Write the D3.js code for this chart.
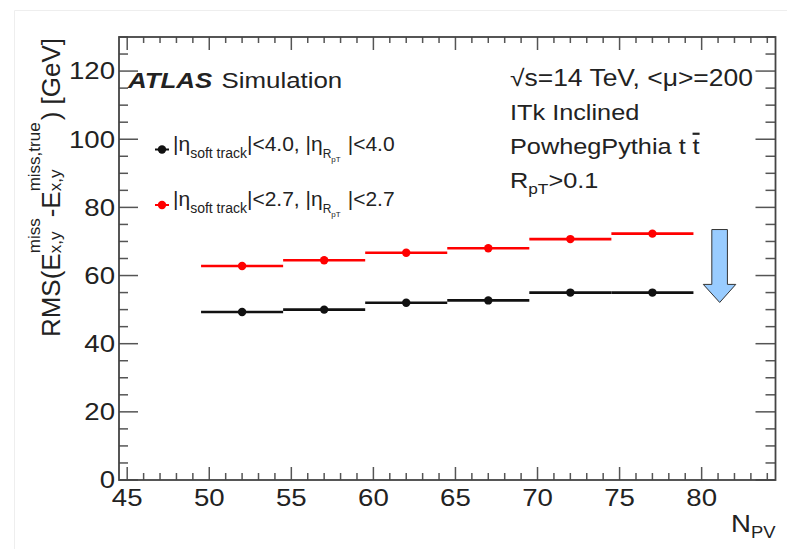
<!DOCTYPE html>
<html>
<head>
<meta charset="utf-8">
<script src="https://cdn.jsdelivr.net/npm/d3@7"></script>
<style>
  html, body { margin: 0; padding: 0; background: #fff; }
  text { font-family: "Liberation Sans", Arial, Helvetica, sans-serif; fill: #222; }
</style>
</head>
<body>
<svg id="chart" width="787" height="549"></svg>
<script>
// N_PV bins (low / high edge) and bin centres where the markers sit
const binLow = [49.5, 54.5, 59.5, 64.5, 69.5, 74.5];
const binHigh = [54.5, 59.5, 64.5, 69.5, 74.5, 79.5];
const binCentre = [52, 57, 62, 67, 72, 77];

// RMS values [GeV]
const rmsEta40 = [49.3, 50.0, 52.0, 52.7, 55.0, 55.0]; // black
const rmsEta27 = [62.8, 64.5, 66.7, 68.0, 70.7, 72.3]; // red

const xTicks = [45, 50, 55, 60, 65, 70, 75, 80];
const yTicks = [0, 20, 40, 60, 80, 100, 120];

// blue arrow drawn in data units: [N_PV, RMS]
const arrowShape = [
  [80.62, 73.5], [81.57, 73.5], [81.57, 57.4], [82.08, 57.4],
  [81.1, 52.1], [80.1, 57.4], [80.62, 57.4]
];

const W = 787, H = 549;
const frame = { left: 119, right: 775.5, top: 37, bottom: 480 };
const SX = 1.15; // the source picture is stretched horizontally

const svg = d3.select('#chart');
svg.append('rect').attr('width', W).attr('height', H).attr('fill', '#fff');

// faint border of the slide image
svg.append('path')
  .attr('d', `M14.5,${H} V10.5 H${W}`)
  .attr('fill', 'none').attr('stroke', '#eeeeee').attr('stroke-width', 1);

const x = d3.scaleLinear().domain([44.5, 84.5]).range([frame.left, frame.right]);
const y = d3.scaleLinear().domain([0, 130]).range([frame.bottom, frame.top]);

// --- axes, ROOT style: ticks inside, mirrored on top/right ---
const axisColor = '#555';
const ticksG = svg.append('g').attr('stroke', axisColor).attr('stroke-width', 1.5);

d3.range(45, 85, 1).forEach(v => {
  const major = v % 5 === 0;
  const px = x(v);
  ticksG.append('line').attr('x1', px).attr('x2', px)
    .attr('y1', frame.bottom).attr('y2', frame.bottom - (major ? 13 : 7));
  ticksG.append('line').attr('x1', px).attr('x2', px)
    .attr('y1', frame.top).attr('y2', frame.top + (major ? 13 : 6));
});
d3.range(0, 131, 5).forEach(v => {
  const major = v % 20 === 0;
  const py = y(v);
  ticksG.append('line').attr('y1', py).attr('y2', py)
    .attr('x1', frame.left).attr('x2', frame.left + (major ? 19 : 9));
  ticksG.append('line').attr('y1', py).attr('y2', py)
    .attr('x1', frame.right).attr('x2', frame.right - (major ? 20 : 10));
});

svg.append('rect')
  .attr('x', frame.left).attr('y', frame.top)
  .attr('width', frame.right - frame.left).attr('height', frame.bottom - frame.top)
  .attr('fill', 'none').attr('stroke', '#444').attr('stroke-width', 1.8);

// tick labels
xTicks.forEach(v => {
  svg.append('text')
    .attr('transform', `translate(${x(v)},506) scale(${SX},1)`)
    .attr('text-anchor', 'middle').attr('font-size', 24).text(v);
});
yTicks.forEach(v => {
  svg.append('text')
    .attr('transform', `translate(115,${y(v)}) scale(${SX},1)`)
    .attr('text-anchor', 'end').attr('dominant-baseline', 'central')
    .attr('font-size', 24).text(v);
});

// helper: lay out text pieces one after another (sub/superscripts can stack)
function richText(g, parts, anchorEnd) {
  let cx = 0, prevStart = 0, prevEnd = 0;
  const els = [];
  parts.forEach(p => {
    const start = p.stack ? prevStart : cx + (p.dx || 0);
    const el = g.append('text')
      .attr('x', start).attr('y', p.dy || 0)
      .attr('font-size', p.fs)
      .attr('font-weight', p.bold ? 'bold' : null)
      .attr('font-style', p.italic ? 'italic' : null)
      .attr('fill', p.fill || null)
      .text(p.t);
    if (p.overline) el.style('text-decoration', 'overline');
    const w = el.node().getComputedTextLength();
    if (p.stack) {
      prevEnd = Math.max(prevEnd, start + w);
    } else {
      prevStart = start;
      prevEnd = start + w;
    }
    cx = prevEnd;
    els.push(el);
  });
  if (anchorEnd) els.forEach(el => el.attr('x', +el.attr('x') - cx));
  return cx;
}

// y axis title (rotated, right-aligned to the top of the axis)
const yTitle = svg.append('g').attr('transform', 'translate(60,38) rotate(-90)');
richText(yTitle, [
  { t: 'RMS(E', fs: 26 },
  { t: 'miss', fs: 17, dy: -20 },
  { t: 'x,y', fs: 17, dy: 1, stack: true },
  { t: '-E', fs: 26, dx: 1 },
  { t: 'miss,true', fs: 17, dy: -20 },
  { t: 'x,y', fs: 17, dy: 1, stack: true },
  { t: ') [GeV]', fs: 26, dx: 2 }
], true);

// x axis title
const xTitle = svg.append('g').attr('transform', `translate(${frame.right},532) scale(${SX},1)`);
richText(xTitle, [
  { t: 'N', fs: 24 },
  { t: 'PV', fs: 16, dy: 6 }
], true);

// --- data: horizontal bin lines + markers ---
function drawSeries(values, color) {
  const g = svg.append('g');
  g.selectAll('line')
    .data(values)
    .join('line')
    .attr('x1', (d, i) => x(binLow[i]))
    .attr('x2', (d, i) => x(binHigh[i]))
    .attr('y1', d => y(d))
    .attr('y2', d => y(d))
    .attr('stroke', color).attr('stroke-width', 2.6);
  g.selectAll('circle')
    .data(values)
    .join('circle')
    .attr('cx', (d, i) => x(binCentre[i]))
    .attr('cy', d => y(d))
    .attr('r', 4.2)
    .attr('fill', color);
}
drawSeries(rmsEta40, '#111');
drawSeries(rmsEta27, '#ff0000');

// blue arrow
svg.append('path')
  .attr('d', d3.line().x(d => x(d[0])).y(d => y(d[1]))(arrowShape) + 'Z')
  .attr('fill', '#99ccff').attr('stroke', '#333').attr('stroke-width', 1);

// --- labels ---
const atlas = svg.append('g').attr('transform', `translate(128,88) scale(${SX},1)`);
richText(atlas, [
  { t: 'ATLAS', fs: 22.5, bold: true, italic: true },
  { t: 'Simulation', fs: 22.5, dx: 8 }
]);

// legend
const legendRows = [
  { color: '#111', cut: '4.0', yPos: 149.5 },
  { color: '#ff0000', cut: '2.7', yPos: 205 }
];
legendRows.forEach(r => {
  svg.append('line')
    .attr('x1', 155).attr('x2', 169).attr('y1', r.yPos).attr('y2', r.yPos)
    .attr('stroke', r.color).attr('stroke-width', 2);
  svg.append('circle').attr('cx', 162).attr('cy', r.yPos).attr('r', 4.2).attr('fill', r.color);
  const lg = svg.append('g').attr('transform', `translate(173,${r.yPos + 1})`);
  richText(lg, [
    { t: '|η', fs: 21 },
    { t: 'soft track', fs: 14, dy: 7 },
    { t: `|<${r.cut}, |η`, fs: 21 },
    { t: 'R', fs: 12, dy: 7 },
    { t: 'pT', fs: 8, dy: 11 },
    { t: `|<${r.cut}`, fs: 21, dx: 7 }
  ]);
});

// info block on the right
const infoLines = [
  [{ t: '√s=14 TeV, <μ>=200', fs: 23 }],
  [{ t: 'ITk Inclined', fs: 22 }],
  [{ t: 'PowhegPythia t', fs: 22 }, { t: 't', fs: 22, dx: 6, overline: true }],
  [{ t: 'R', fs: 22 }, { t: 'pT', fs: 15, dy: 6 }, { t: '>0.1', fs: 22 }]
];
const infoBaselines = [86, 120, 154, 188];
infoLines.forEach((parts, i) => {
  const g = svg.append('g').attr('transform', `translate(510,${infoBaselines[i]}) scale(${SX},1)`);
  richText(g, parts);
});
</script>
</body>
</html>
